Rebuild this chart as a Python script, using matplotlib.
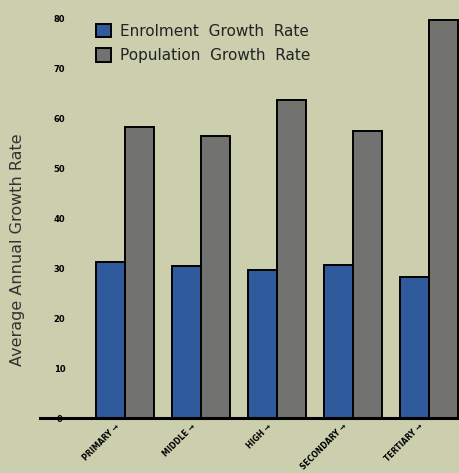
import numpy as np
import matplotlib.pyplot as plt

levels = ["PRIMARY", "MIDDLE", "HIGH", "SECONDARY", "TERTIARY"]
enrolment = [31.2, 30.4, 29.6, 30.6, 28.2]
population = [58.2, 56.4, 63.6, 57.4, 79.6]
yticks = [0, 10, 20, 30, 40, 50, 60, 70, 80]

bg = "#cbcfad"
blue = "#2f5b9c"
grey = "#727270"

fig = plt.figure(figsize=(4.59, 4.73), dpi=100, facecolor=bg)
ax = fig.add_axes([40 / 459, 55 / 473, 419 / 459, 410 / 473], facecolor=bg)

x = np.arange(len(levels))
w = 0.38
ax.bar(x - w / 2, enrolment, w, color=blue, edgecolor="black", linewidth=1.4,
       label="Enrolment  Growth  Rate")
ax.bar(x + w / 2, population, w, color=grey, edgecolor="black", linewidth=1.4,
       label="Population  Growth  Rate")

ax.set_xlim(-1.118, 4.395)
ax.set_ylim(0, 82)

for s in ["left", "right", "top"]:
    ax.spines[s].set_visible(False)
ax.spines["bottom"].set_linewidth(2.2)

ax.set_yticks(yticks)
ax.set_yticklabels([str(t) for t in yticks], fontsize=6, fontweight="bold")
ax.tick_params(axis="y", length=0, pad=-14)
for lab in ax.get_yticklabels():
    lab.set_horizontalalignment("center")

# slanted category labels with a short leader line up to the axis
ax.set_xticks([])
for i, name in enumerate(levels):
    ax.annotate(name + " \u2192", xy=(x[i], 0), xytext=(-5, -5),
                textcoords="offset points", xycoords="data",
                fontsize=5.5, fontweight="bold", rotation=45,
                ha="right", va="center", rotation_mode="anchor",
                arrowprops=dict(arrowstyle="-", color="black", lw=0.9,
                                shrinkA=0, shrinkB=0))

fig.text(18 / 459, 1 - 250 / 473, "Average Annual Growth Rate", rotation=90,
         fontsize=11.5, color="#333333", ha="center", va="center")

leg = ax.legend(loc="upper left", bbox_to_anchor=(0.1, 0.995), frameon=False,
                fontsize=11, handlelength=1.0, handleheight=1.0,
                handletextpad=0.6, labelspacing=0.6)
for t in leg.get_texts():
    t.set_color("#222222")

fig.savefig("out.png", dpi=100, facecolor=bg)
